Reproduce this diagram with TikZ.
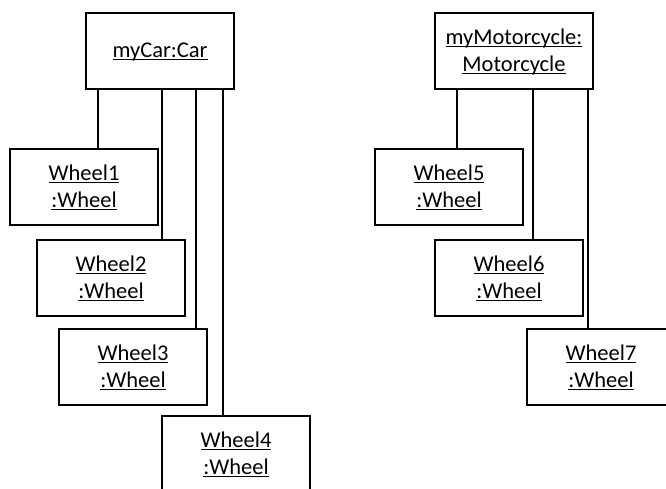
\documentclass[tikz,border=0pt]{standalone}
\usepackage{fontspec}
\setmainfont{Carlito}
\newcommand{\objline}[1]{\underline{\raisebox{0pt}[\height][0pt]{#1}}}
\begin{document}
\begin{tikzpicture}
  [x=1pt,y=-1pt,
   every node/.style={draw,line width=1.8pt,minimum width=148pt,minimum height=76pt,
     inner sep=0pt,align=center,font=\fontsize{22.5}{27}\selectfont},
   link/.style={line width=1.2pt}]
  \clip (0,0) rectangle (666,488);
  \node (car) at (160,51) {\objline{myCar:Car}};
  \node (w1) at (84,187)  {\objline{Wheel1}\\\objline{:Wheel}};
  \node (w2) at (111,278) {\objline{Wheel2}\\\objline{:Wheel}};
  \node (w3) at (133,367) {\objline{Wheel3}\\\objline{:Wheel}};
  \node (w4) at (236,454) {\objline{Wheel4}\\\objline{:Wheel}};

  \node (moto)[minimum width=158pt] at (514,51) {\objline{myMotorcycle:}\\\objline{Motorcycle}};
  \node (w5) at (449,187) {\objline{Wheel5}\\\objline{:Wheel}};
  \node (w6) at (509,278) {\objline{Wheel6}\\\objline{:Wheel}};
  \node (w7) at (601,367) {\objline{Wheel7}\\\objline{:Wheel}};


  \foreach \from/\to/\dx in {car/w1/-62,car/w2/2,car/w3/36,car/w4/63,
                             moto/w5/-57,moto/w6/19,moto/w7/74}
    \draw[link] ([xshift=\dx pt]\from.south) -- ([xshift=\dx pt]\from.south |- \to.north);

\end{tikzpicture}
\end{document}
